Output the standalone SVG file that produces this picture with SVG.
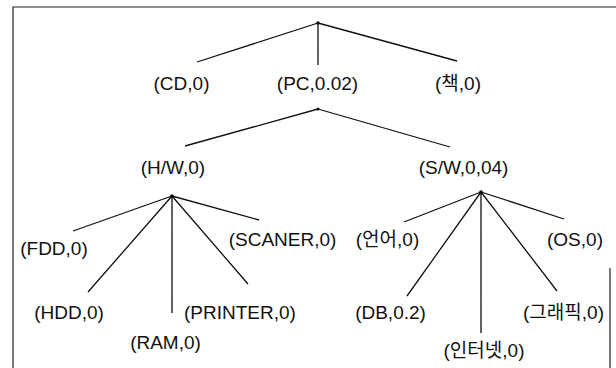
<svg xmlns="http://www.w3.org/2000/svg" width="616" height="368" viewBox="0 0 616 368">
<style>
text{font-family:"Liberation Sans","Noto Sans CJK KR",sans-serif;font-size:19px;fill:#111;text-anchor:middle}
.e{stroke:#111;stroke-width:1.3;fill:none}
.b{stroke:#222;stroke-width:1.2;fill:none}
.d{fill:#111}
</style>
<g id="frame">
<path class="b" d="M13,368 V7 H616"/>
<path class="b" d="M610,268 V368"/>
</g>
<g id="connectors">
<path class="e" d="M318,23 L197,62 M318,23 L318,65 M318,23 L457,61"/>
<path class="e" d="M318,109 L185,146 M318,109 L450,147"/>
<path class="e" d="M172,196 L73,231 M172,196 L88,292 M172,196 L172,313 M172,196 L248,284 M172,196 L259,220"/>
<path class="e" d="M481,192 L404,222 M481,192 L407,296 M481,192 L481,333 M481,192 L557,291 M481,192 L564,219"/>
<circle class="d" cx="318" cy="23" r="1.8"/>
<circle class="d" cx="318" cy="109" r="1.5"/>
<circle class="d" cx="172" cy="196" r="1.8"/>
<circle class="d" cx="481" cy="192" r="1.8"/>
</g>
<g id="n-cd"><text x="181.5" y="90">(CD,0)</text></g>
<g id="n-pc"><text x="317.5" y="90">(PC,0.02)</text></g>
<g id="n-book"><text x="458" y="90">(책,0)</text></g>
<g id="n-hw"><text x="173" y="174">(H/W,0)</text></g>
<g id="n-sw"><text x="463.5" y="174">(S/W,0,04)</text></g>
<g id="n-fdd"><text x="54" y="255">(FDD,0)</text></g>
<g id="n-hdd"><text x="69" y="319">(HDD,0)</text></g>
<g id="n-ram"><text x="165.5" y="349">(RAM,0)</text></g>
<g id="n-printer"><text x="240" y="319">(PRINTER,0)</text></g>
<g id="n-scaner"><text x="282.5" y="246">(SCANER,0)</text></g>
<g id="n-lang"><text x="387.5" y="246">(언어,0)</text></g>
<g id="n-db"><text x="390.5" y="319">(DB,0.2)</text></g>
<g id="n-internet"><text x="484" y="357">(인터넷,0)</text></g>
<g id="n-graphic"><text x="563.5" y="319">(그래픽,0)</text></g>
<g id="n-os"><text x="575" y="246">(OS,0)</text></g>
</svg>
